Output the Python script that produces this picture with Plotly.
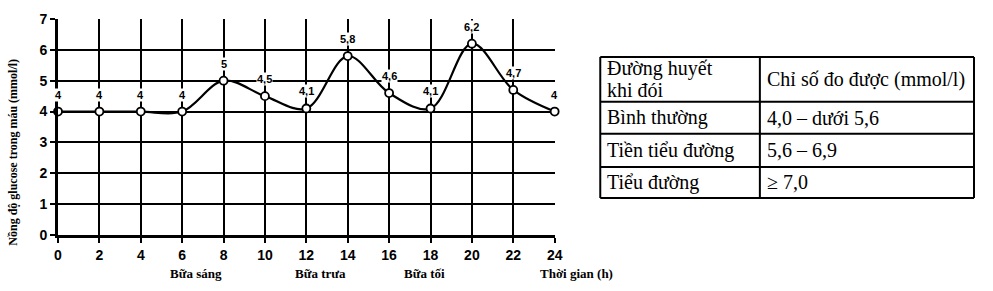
import plotly.graph_objects as go

# ---- data ----
hours = [0, 2, 4, 6, 8, 10, 12, 14, 16, 18, 20, 22, 24]
glucose = [4, 4, 4, 4, 5, 4.5, 4.1, 5.8, 4.6, 4.1, 6.2, 4.7, 4]
value_labels = ["4", "4", "4", "4", "5", "4,5", "4,1", "5,8", "4,6", "4,1", "6,2", "4,7", "4"]
x_ticks = list(range(0, 25, 2))
y_ticks = list(range(0, 8))
meal_labels = ["Bữa sáng", "Bữa trưa", "Bữa tối", "Thời gian (h)"]
meal_x = [6.65, 12.7, 17.7, 25.05]

table_rows = [
    ["Đường huyết<br>khi đói", "Chỉ số đo được (mmol/l)"],
    ["Bình thường", "4,0 – dưới 5,6"],
    ["Tiền tiểu đường", "5,6 – 6,9"],
    ["Tiểu đường", "≥ 7,0"],
]

W, H = 993, 291
ml, mr, mt, mb = 58, 11, 13, 56
pw = W - ml - mr
ph = H - mt - mb
x_right_px = 559
X_MAX = 24

def fx(px):
    return (px - ml) / pw

def fy(py):
    return (H - mb - py) / ph

def data_x_to_paper(xv):
    return fx(ml + xv / X_MAX * (x_right_px - ml))

fig = go.Figure()

fig.add_trace(go.Scatter(
    x=hours, y=glucose, mode="lines+markers",
    line=dict(color="black", width=2.2, shape="spline", smoothing=1.0),
    marker=dict(size=8, color="white", line=dict(color="black", width=1.8)),
    cliponaxis=False, showlegend=False, hoverinfo="skip",
))

for xv, yv, lab in zip(hours, glucose, value_labels):
    fig.add_annotation(
        x=xv, y=yv, text=lab, showarrow=False, yshift=17,
        font=dict(family="Liberation Sans", size=11, color="black", weight="bold"),
        bgcolor="white", borderpad=0,
    )

for lab, xv in zip(meal_labels, meal_x):
    fig.add_annotation(
        x=data_x_to_paper(xv), xref="paper", y=fy(275), yref="paper", text=lab,
        showarrow=False, xanchor="center", yanchor="middle",
        font=dict(family="Liberation Serif", size=13, color="black", weight="bold"),
    )

fig.add_annotation(
    x=fx(13), xref="paper", y=fy(150), yref="paper",
    text="Nồng độ glucose trong máu (mmol/l)", textangle=-90, showarrow=False,
    xanchor="center", yanchor="middle",
    font=dict(family="Liberation Serif", size=12, color="black", weight="bold"),
)

# ---- table drawn with shapes + annotations ----
col_edges = [605, 766, 982]
row_edges = [52, 98, 131, 165, 197]
tfont = dict(family="Liberation Serif", size=20, color="black")
for px in col_edges:
    fig.add_shape(type="line", xref="paper", yref="paper",
                  x0=fx(px), x1=fx(px), y0=fy(row_edges[0]), y1=fy(row_edges[-1]),
                  line=dict(color="black", width=2))
for py in row_edges:
    fig.add_shape(type="line", xref="paper", yref="paper",
                  x0=fx(col_edges[0]), x1=fx(col_edges[-1]), y0=fy(py), y1=fy(py),
                  line=dict(color="black", width=2))
for r, row in enumerate(table_rows):
    top, bot = row_edges[r], row_edges[r + 1]
    for c, txt in enumerate(row):
        lines = txt.split("<br>")
        n = len(lines)
        for i, ln in enumerate(lines):
            cy = (top + bot) / 2 + (i - (n - 1) / 2) * 22
            fig.add_annotation(
                x=fx(col_edges[c] + 5), xref="paper", y=fy(cy), yref="paper",
                text=ln, showarrow=False, xanchor="left", yanchor="middle",
                font=tfont,
            )

axis_font = dict(family="Liberation Sans", size=14, color="black", weight="bold")
fig.update_xaxes(
    domain=[0, fx(x_right_px)], range=[0, X_MAX], tickvals=x_ticks,
    showgrid=True, gridcolor="black", gridwidth=1.6,
    showline=True, linecolor="black", linewidth=3,
    ticks="outside", ticklen=5, tickwidth=2, tickcolor="black",
    tickfont=axis_font, zeroline=False,
)
fig.update_yaxes(
    range=[0, 7], tickvals=y_ticks,
    showgrid=True, gridcolor="black", gridwidth=1.6,
    showline=True, linecolor="black", linewidth=3,
    ticks="outside", ticklen=5, tickwidth=2, tickcolor="black",
    tickfont=axis_font, zeroline=False,
)

fig.update_layout(
    width=W, height=H, margin=dict(l=ml, r=mr, t=mt, b=mb),
    paper_bgcolor="white", plot_bgcolor="white", showlegend=False,
)

fig.write_html("out.html")
